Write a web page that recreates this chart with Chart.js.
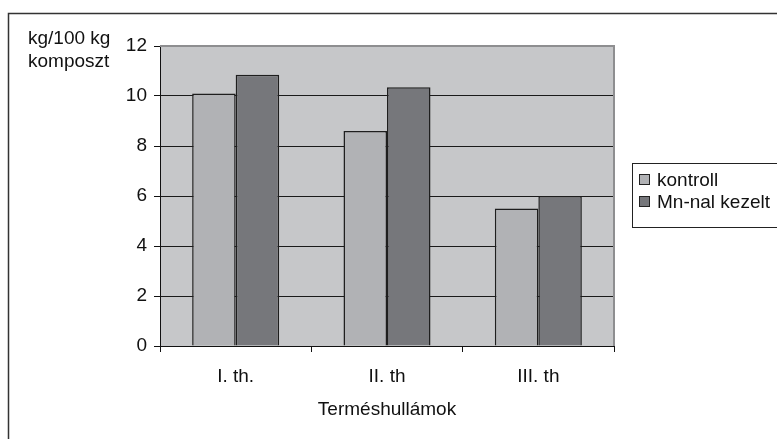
<!DOCTYPE html>
<html>
<head>
<meta charset="utf-8">
<script src="https://cdn.jsdelivr.net/npm/chart.js@4"></script>
<style>
  html, body { margin: 0; padding: 0; background: #fff; }
  #wrap { width: 777px; height: 439px; }
</style>
</head>
<body>
<div id="wrap"><canvas id="termesChart" width="777" height="439"></canvas></div>
<script>
const categories = ['I. th.', 'II. th', 'III. th'];
const kontroll = [10.1, 8.6, 5.5];
const mnKezelt = [10.85, 10.35, 6.0];
const seriesNames = ['kontroll', 'Mn-nal kezelt'];
const yTicks = [0, 2, 4, 6, 8, 10, 12];
const yTitle = ['kg/100 kg', 'komposzt'];
const xTitle = 'Terméshullámok';

const FONT = 'Liberation Sans, Arial, sans-serif';
const FS = 19;

// grey plot background, grey top/right edge and the outer frame
const decor = {
  id: 'decor',
  beforeDraw(chart) {
    const { ctx, chartArea: a } = chart;
    ctx.save();
    ctx.fillStyle = '#c6c7c9';
    ctx.fillRect(a.left, a.top, a.right - a.left, a.bottom - a.top);
    ctx.restore();
  },
  afterDraw(chart) {
    const { ctx, chartArea: a } = chart;
    ctx.save();
    ctx.strokeStyle = '#8e8e90';
    ctx.lineWidth = 2;
    ctx.beginPath();
    ctx.moveTo(a.left, a.top);
    ctx.lineTo(a.right, a.top);
    ctx.lineTo(a.right, a.bottom);
    ctx.stroke();

    // outer frame (only top and left fall inside the picture)
    ctx.strokeStyle = '#333';
    ctx.lineWidth = 1.5;
    ctx.strokeRect(8.5, 13.5, 820, 500);

    // y title, two lines, horizontal at top left
    ctx.fillStyle = '#111';
    ctx.font = FS + 'px ' + FONT;
    ctx.textAlign = 'left';
    ctx.textBaseline = 'alphabetic';
    ctx.fillText(yTitle[0], 28, 44);
    ctx.fillText(yTitle[1], 28, 67);

    // legend box
    ctx.strokeStyle = '#222';
    ctx.lineWidth = 1;
    ctx.strokeRect(632.5, 163.5, 200, 64);
    chart.data.datasets.forEach((ds, i) => {
      const cy = 180 + i * 22;
      ctx.fillStyle = ds.backgroundColor;
      ctx.fillRect(639.5, cy - 5.5, 10, 10);
      ctx.strokeStyle = '#222';
      ctx.strokeRect(639.5, cy - 5.5, 10, 10);
      ctx.fillStyle = '#111';
      ctx.textBaseline = 'middle';
      ctx.fillText(ds.label, 657, cy + 1);
    });
    ctx.restore();
  }
};

const ctx = document.getElementById('termesChart').getContext('2d');

new Chart(ctx, {
  type: 'bar',
  data: {
    labels: categories,
    datasets: [
      {
        label: seriesNames[0],
        data: kontroll,
        backgroundColor: '#b1b2b5',
        borderColor: '#1e1e1e',
        borderWidth: 1.5
      },
      {
        label: seriesNames[1],
        data: mnKezelt,
        backgroundColor: '#76777b',
        borderColor: '#1e1e1e',
        borderWidth: 1.5
      }
    ]
  },
  options: {
    responsive: false,
    animation: false,
    devicePixelRatio: 1,
    layout: {
      padding: { left: 0, top: 46, right: 163, bottom: 0 }
    },
    datasets: {
      bar: { categoryPercentage: 0.575, barPercentage: 1 }
    },
    plugins: {
      legend: { display: false },
      tooltip: { enabled: false }
    },
    scales: {
      x: {
        grid: {
          offset: true,
          drawOnChartArea: false,
          color: '#111',
          tickLength: 6
        },
        border: { color: '#111', width: 1 },
        ticks: {
          color: '#111',
          font: { family: FONT, size: FS },
          padding: 13
        },
        title: {
          display: true,
          text: xTitle,
          color: '#111',
          font: { family: FONT, size: FS },
          padding: { top: 0, bottom: 18 }
        },
        afterFit(scale) { scale.height = 93; }
      },
      y: {
        min: 0,
        max: 12,
        afterBuildTicks(scale) {
          scale.ticks = yTicks.map(v => ({ value: v }));
        },
        grid: {
          color: c => (c.tick && c.tick.value === 12 ? 'rgba(0,0,0,0)' : '#1a1a1a'),
          tickColor: '#111',
          tickLength: 6,
          lineWidth: 1
        },
        border: { color: '#111', width: 1 },
        ticks: {
          color: '#111',
          font: { family: FONT, size: FS },
          padding: 7
        },
        afterFit(scale) { scale.width = 160; }
      }
    }
  },
  plugins: [decor]
});
</script>
</body>
</html>
